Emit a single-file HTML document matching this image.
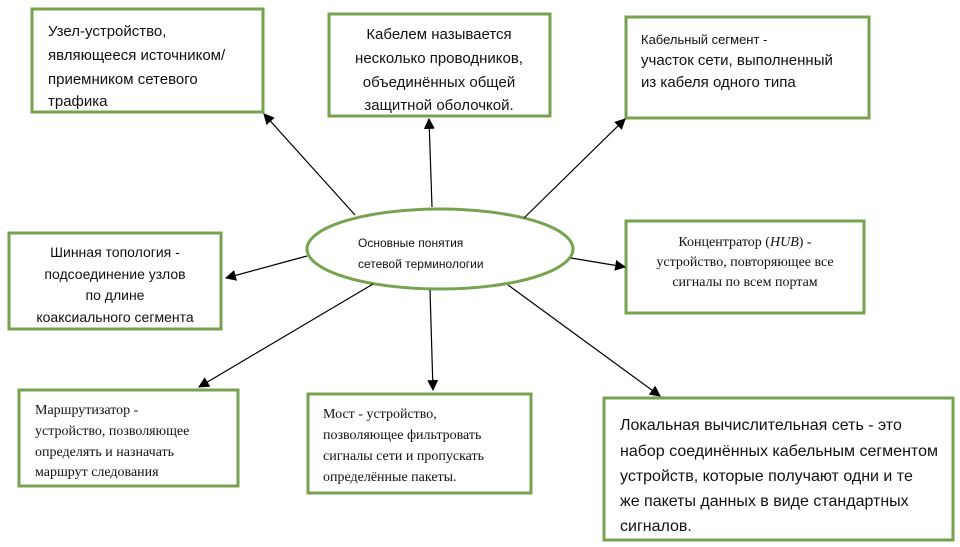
<!DOCTYPE html>
<html><head><meta charset="utf-8"><style>
body{margin:0;background:#fff;}
svg{display:block}
.s{font-family:"Liberation Sans","DejaVu Sans",sans-serif;fill:#111}
.r{font-family:"Liberation Serif","DejaVu Serif",serif;fill:#111}
rect,ellipse{fill:#fff;stroke:#76a34f;stroke-width:3}
line{stroke:#000;stroke-width:1.2}
</style></head><body>
<svg width="960" height="547" viewBox="0 0 960 547" xmlns="http://www.w3.org/2000/svg">
<defs><marker id="a" viewBox="0 0 10 10" refX="9" refY="5" markerWidth="11" markerHeight="11" markerUnits="userSpaceOnUse" orient="auto"><path d="M0,0L10,5L0,10z" fill="#000"/></marker></defs>
<rect x="32" y="9" width="231" height="103"/>
<rect x="329" y="14" width="221" height="102"/>
<rect x="626" y="17" width="243" height="101"/>
<rect x="9" y="233" width="212" height="96"/>
<rect x="626" y="221" width="238" height="92"/>
<rect x="19" y="390" width="219" height="96"/>
<rect x="308" y="394" width="223" height="99"/>
<rect x="604" y="398" width="349" height="142"/>
<ellipse cx="440" cy="249" rx="133" ry="40"/>
<line x1="355" y1="215" x2="264" y2="114" marker-end="url(#a)"/>
<line x1="432" y1="207" x2="429" y2="119" marker-end="url(#a)"/>
<line x1="524" y1="218" x2="625" y2="119" marker-end="url(#a)"/>
<line x1="307" y1="256" x2="226" y2="278" marker-end="url(#a)"/>
<line x1="571" y1="258" x2="625" y2="267" marker-end="url(#a)"/>
<line x1="373" y1="284" x2="199" y2="387" marker-end="url(#a)"/>
<line x1="430" y1="290" x2="433" y2="390" marker-end="url(#a)"/>
<line x1="508" y1="285" x2="660" y2="396" marker-end="url(#a)"/>
<g class="s" font-size="15">
<text x="48" y="36">Узел-устройство,</text>
<text x="48" y="60">являющееся источником/</text>
<text x="48" y="84">приемником сетевого</text>
<text x="48" y="106">трафика</text>
<g text-anchor="middle">
<text x="439" y="39">Кабелем называется</text>
<text x="439" y="63">несколько проводников,</text>
<text x="439" y="87">объединённых общей</text>
<text x="439" y="110">защитной оболочкой.</text>
</g>
<text x="641" y="44" font-size="13">Кабельный сегмент -</text>
<text x="641" y="65">участок сети, выполненный</text>
<text x="641" y="87">из кабеля одного типа</text>
<g text-anchor="middle" font-size="14">
<text x="115" y="257">Шинная топология -</text>
<text x="115" y="279">подсоединение узлов</text>
<text x="115" y="300">по длине</text>
<text x="115" y="322">коаксиального сегмента</text>
</g>
<text x="358" y="247" font-size="12">Основные понятия</text>
<text x="358" y="268" font-size="12">сетевой терминологии</text>
<g font-size="16">
<text x="620" y="430">Локальная вычислительная сеть - это</text>
<text x="620" y="456">набор соединённых кабельным сегментом</text>
<text x="620" y="481">устройств, которые получают одни и те</text>
<text x="620" y="506">же пакеты данных в виде стандартных</text>
<text x="620" y="531">сигналов.</text>
</g>
</g>
<g class="r" font-size="14">
<g text-anchor="middle">
<text x="745" y="246">Концентратор (<tspan font-style="italic">HUB</tspan>) -</text>
<text x="745" y="266">устройство, повторяющее все</text>
<text x="745" y="286">сигналы по всем портам</text>
</g>
<text x="35" y="414">Маршрутизатор -</text>
<text x="35" y="435">устройство, позволяющее</text>
<text x="35" y="456">определять и назначать</text>
<text x="35" y="476">маршрут следования</text>
<text x="323" y="418">Мост - устройство,</text>
<text x="323" y="439">позволяющее фильтровать</text>
<text x="323" y="460">сигналы сети и пропускать</text>
<text x="323" y="481">определённые пакеты.</text>
</g>
</svg>
</body></html>
